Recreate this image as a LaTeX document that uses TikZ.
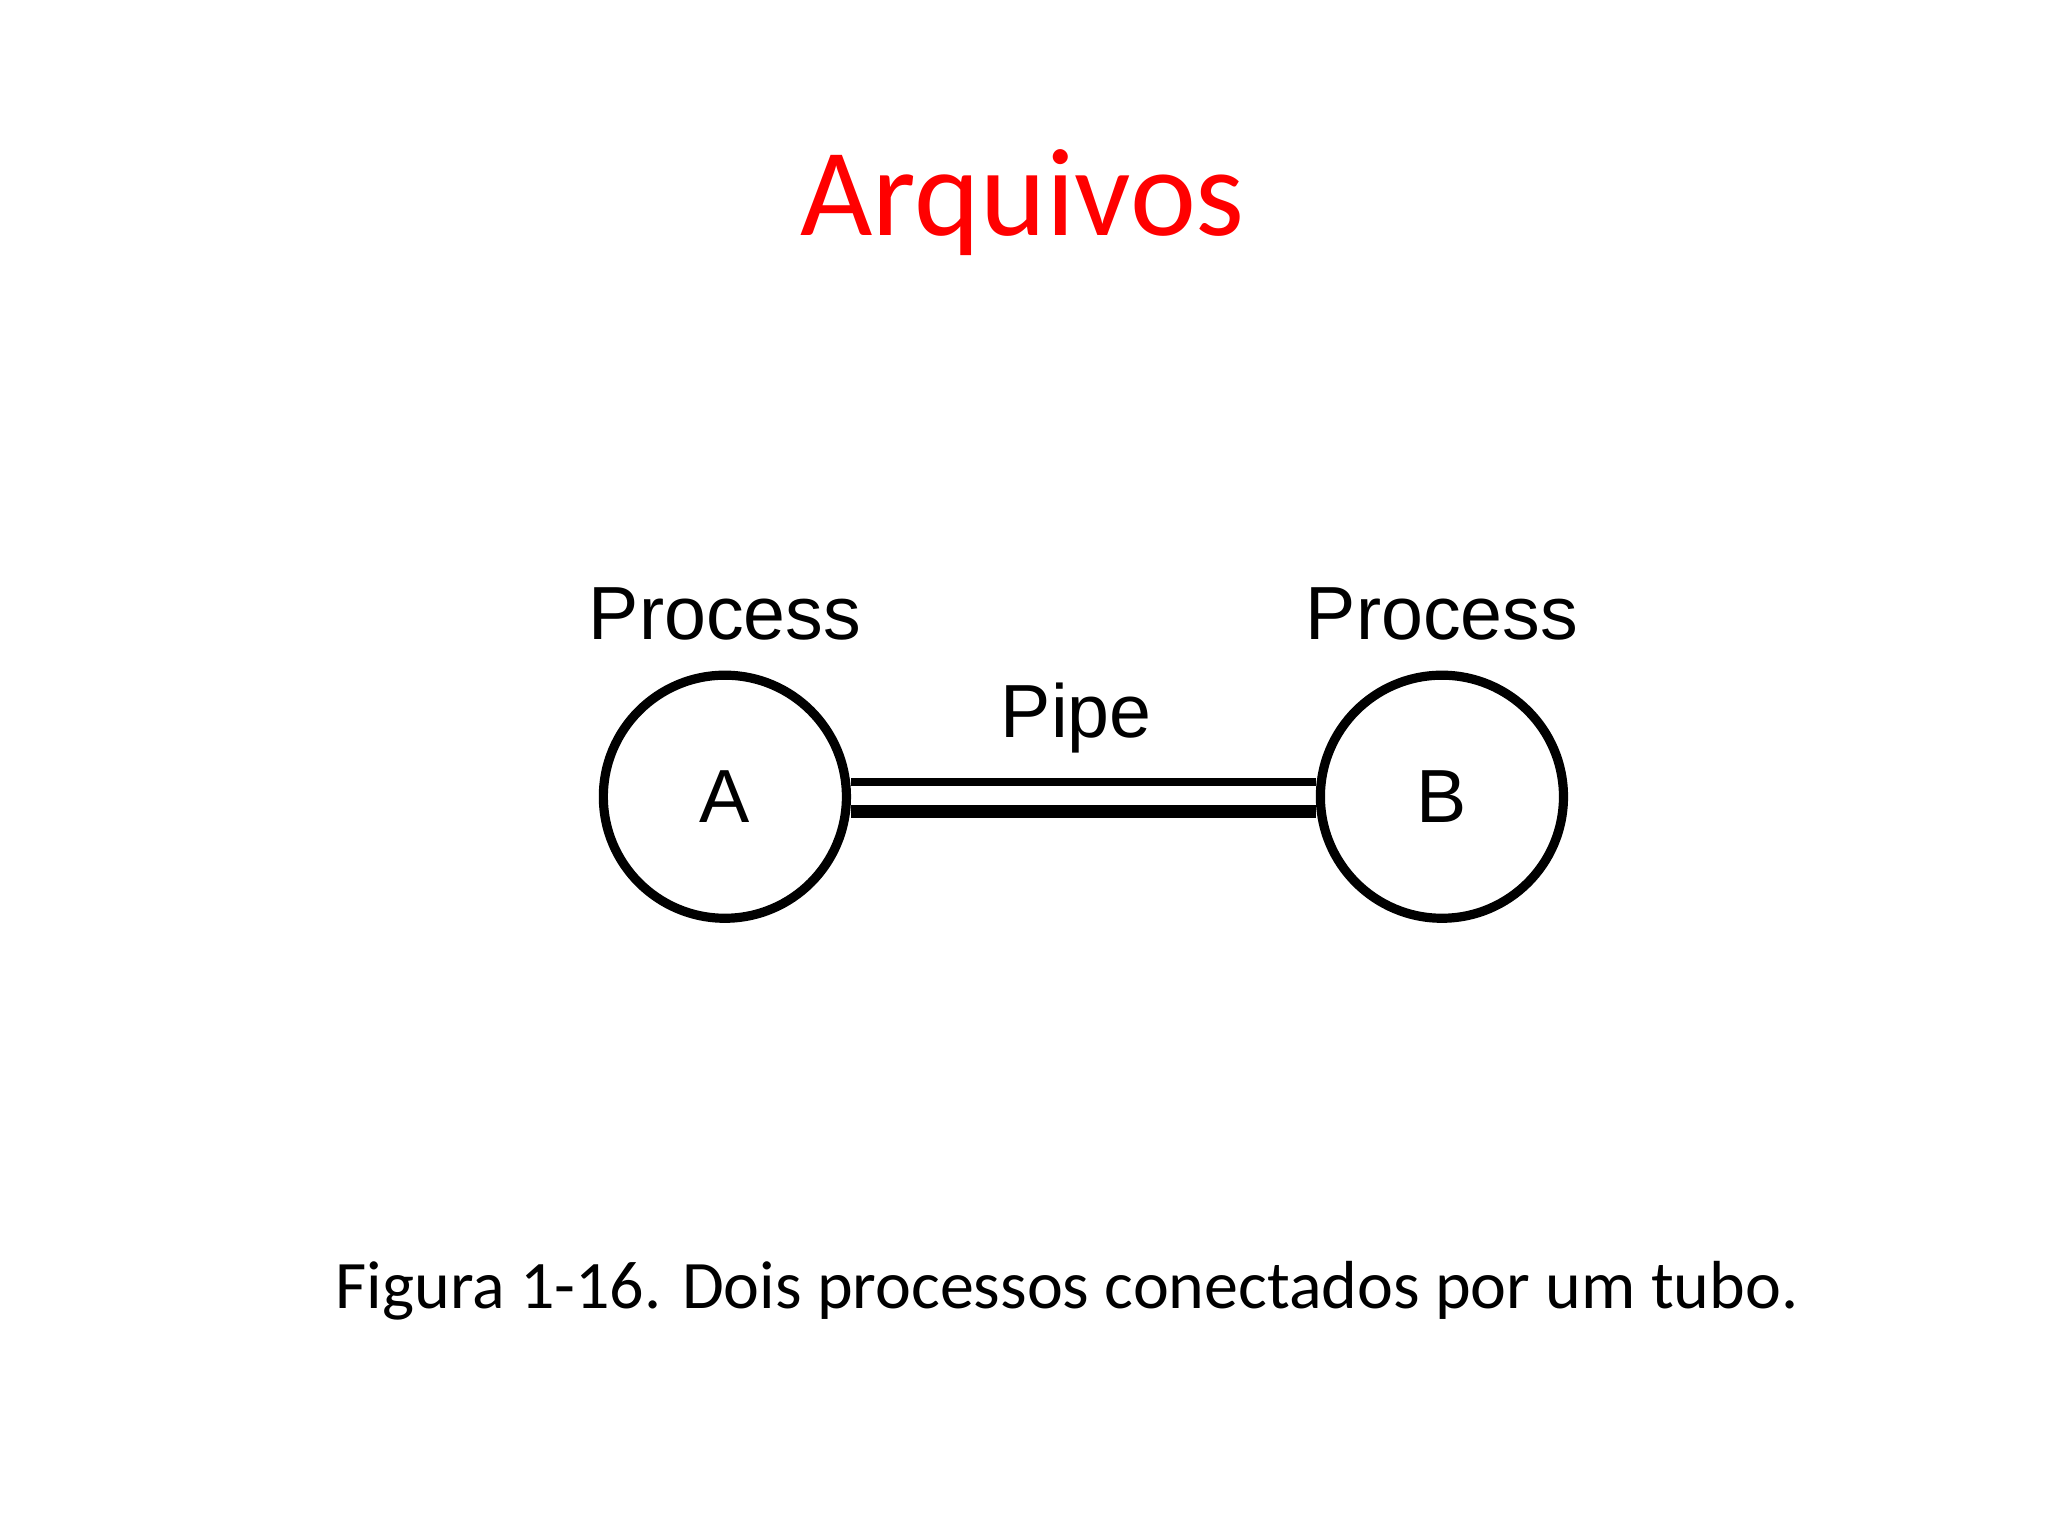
\documentclass[tikz,border=0pt]{standalone}
\usepackage{fontspec}
\setmainfont{Carlito}
\newfontfamily\arialf{Liberation Sans}
\begin{document}
\begin{tikzpicture}[x=0.01cm,y=-0.01cm,
  proc/.style={circle,draw,line width=2pt,minimum size=1.86cm,inner sep=0pt,font=\arialf\fontsize{16.4}{20}\selectfont},
  lab/.style={font=\arialf\fontsize{16.4}{20}\selectfont,inner sep=0pt}]
\useasboundingbox (0,0) rectangle (1568,1176);
\fill[white] (0,0) rectangle (1568,1176);
\node[text=red,font=\fontsize{27.2}{32}\selectfont,inner sep=0pt] (title) at (783,155) {Arquivos};
\node[proc] (A) at (555,610) {A};
\node[proc] (B) at (1104,610) {B};
\node[lab] (pa) at (555,470) {Process};
\node[lab] (pb) at (1104,470) {Process};
\node[lab] (pipe) at (824,550) {Pipe};
\draw[line width=1.8pt] ([yshift=0.11cm]A.east) -- ([yshift=0.11cm]B.west);
\draw[line width=2.8pt] ([yshift=-0.11cm]A.east) -- ([yshift=-0.11cm]B.west);
\node[font=\fontsize{14.8}{18}\selectfont,inner sep=0pt] (cap) at (817,988) {Figura 1-16. Dois processos conectados por um tubo.};
\end{tikzpicture}
\end{document}
